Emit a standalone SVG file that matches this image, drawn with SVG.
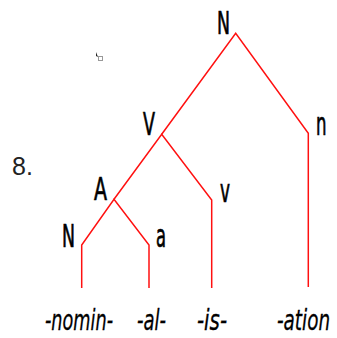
<svg xmlns="http://www.w3.org/2000/svg" width="337" height="338" viewBox="0 0 337 338">
<style>
.e{fill:none;stroke:#ff1010;stroke-width:1.5;stroke-linejoin:miter}
.l{font-family:"Liberation Sans Narrow","DejaVu Sans Condensed","Liberation Sans",sans-serif;font-size:32px;fill:#000;stroke:#000;stroke-width:0.7}
.m{font-family:"Liberation Sans Narrow","DejaVu Sans Condensed","Liberation Sans",sans-serif;font-size:28px;font-style:italic;fill:#000;stroke:#000;stroke-width:0.3}
.n{font-family:"Liberation Sans","DejaVu Sans",sans-serif;font-size:25px;fill:#222}
</style>
<rect width="337" height="338" fill="#fff"/>
<g id="connectors">
<polyline class="e" points="161.7,134.3 235.7,33.3 308.3,133.3 308.3,287"/>
<polyline class="e" points="114,199.3 161.7,134.3 211.7,200 211.7,288"/>
<polyline class="e" points="81.7,288 81.7,245 114,199.3 149,245 149,288"/>
</g>
<g id="N-root"><text class="l" x="217" y="34" textLength="13" lengthAdjust="spacingAndGlyphs">N</text></g>
<g id="V"><text class="l" x="143" y="135" textLength="12" lengthAdjust="spacingAndGlyphs">V</text></g>
<g id="n"><text class="l" x="316" y="135" textLength="10.5" lengthAdjust="spacingAndGlyphs">n</text></g>
<g id="A"><text class="l" x="94" y="200" textLength="13" lengthAdjust="spacingAndGlyphs">A</text></g>
<g id="v"><text class="l" x="220" y="202" textLength="10" lengthAdjust="spacingAndGlyphs">v</text></g>
<g id="N"><text class="l" x="62" y="247" textLength="13" lengthAdjust="spacingAndGlyphs">N</text></g>
<g id="a"><text class="l" x="156" y="247" textLength="10" lengthAdjust="spacingAndGlyphs">a</text></g>
<g id="label-8"><text class="n" x="12" y="175">8.</text></g>
<g id="morphemes">
<text class="m" transform="translate(45,330) scale(0.75,1)" textLength="90.7" lengthAdjust="spacingAndGlyphs">-nomin-</text>
<text class="m" transform="translate(137,330) scale(0.75,1)" textLength="38.7" lengthAdjust="spacingAndGlyphs">-al-</text>
<text class="m" transform="translate(197,330) scale(0.75,1)" textLength="40" lengthAdjust="spacingAndGlyphs">-is-</text>
<text class="m" transform="translate(277,330) scale(0.75,1)" textLength="70.7" lengthAdjust="spacingAndGlyphs">-ation</text>
</g>
<g id="cursor"><path d="M96,52 L96,56 L98,57 Z" fill="#222"/><rect x="98.5" y="56.5" width="4" height="4" fill="none" stroke="#999" stroke-width="1"/></g>
</svg>
